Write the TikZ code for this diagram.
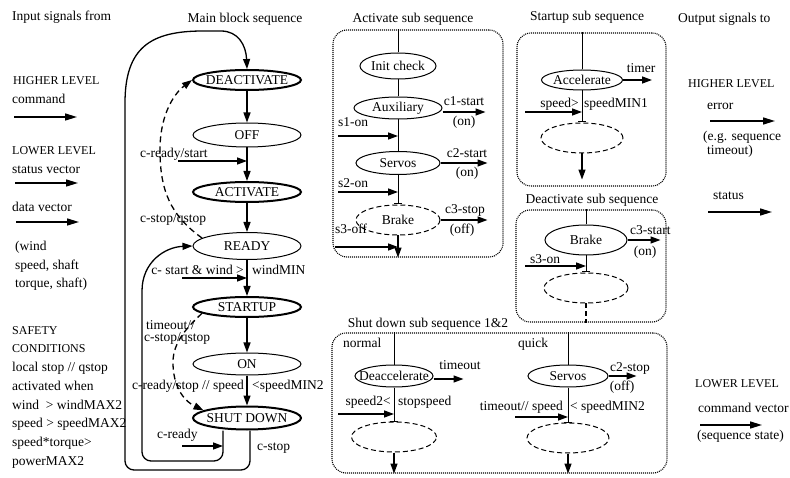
\documentclass[tikz,border=0pt]{standalone}
\usepackage{fontspec}
\setmainfont{Liberation Serif}
\usetikzlibrary{arrows.meta,shapes.geometric}

\tikzset{
  mstate/.style={ellipse, draw, line width=1pt, inner xsep=-14pt, inner ysep=0pt,
    minimum width=108pt, minimum height=24pt},
  keystate/.style={mstate, line width=2pt, minimum height=20pt},
  substate/.style={mstate, minimum height=22pt},
  ghost/.style={substate, dash pattern=on 5pt off 3pt, minimum height=30pt},
  subbox/.style={draw, line width=1.1pt, dash pattern=on 1pt off 1pt,
    rounded corners=14pt, inner sep=0pt},
  flow/.style={-{Triangle[length=10pt,width=7pt]}, line width=1.3pt},
  backflow/.style={flow, dash pattern=on 6pt off 4pt},
  sig/.style={-{Triangle[length=12pt,width=7pt]}, line width=1.5pt},
  tbar/.style={-{Bar[width=8pt]}, line width=1pt},
  lbl/.style={inner sep=0pt, text height=1.5ex, text depth=.25ex},
  caps/.style={lbl, font=\fontsize{12}{14}\selectfont},
  txtblock/.style={inner sep=0pt, align=left, anchor=north west},
}

\begin{document}
\begin{tikzpicture}[x=1pt, y=-1pt, font=\fontsize{13.5}{16}\selectfont]
  \useasboundingbox (0,0) rectangle (790,478);

  % input signals
  \node[lbl, anchor=west] (insig) at (12,18) {Input signals from};
  \node[caps, anchor=west] (hiin) at (13,82) {HIGHER LEVEL};
  \node[lbl, anchor=west] (cmdin) at (12,101) {command};
  \coordinate (cmdA) at (14,117);
  \draw[sig] (cmdA) -- ++(63,0);
  \node[caps, anchor=west] (loin) at (12,152) {LOWER LEVEL};
  \node[lbl, anchor=west] (statin) at (12,171) {status vector};
  \coordinate (statA) at (15,183);
  \draw[sig] (statA) -- ++(63,0);
  \node[lbl, anchor=west] (datain) at (12,209) {data vector};
  \coordinate (dataA) at (16,222);
  \draw[sig] (dataA) -- ++(63,0);
  \node[txtblock, font=\fontsize{13.5}{18.5}\selectfont] (windin) at (15,241)
    {(wind\\speed, shaft\\torque, shaft)};
  \node[txtblock, font=\fontsize{12}{18.5}\selectfont] (safety) at (12,326)
    {SAFETY\\CONDITIONS};
  \node[txtblock, font=\fontsize{13.5}{18.8}\selectfont] (limits) at (12,362)
    {local stop // qstop\\activated when\\wind\ \ > windMAX2\\speed > speedMAX2\\speed*torque>\\powerMAX2};

  % main block sequence
  \node[lbl] (mbtitle) at (245,20) {Main block sequence};
  \node[keystate] (deact) at (247,80) {DEACTIVATE};
  \node[mstate] (off) at (247,135) {OFF};
  \node[keystate] (act) at (247,192) {ACTIVATE};
  \node[mstate, minimum height=27pt] (ready) at (247,246) {READY};
  \node[keystate] (startup) at (247,307) {STARTUP};
  \node[mstate, minimum height=22pt] (on) at (247,364) {ON};
  \node[keystate, minimum height=23pt] (shutdn) at (247,418) {SHUT DOWN};
  \foreach \a/\b in {deact/off, off/act, act/ready, ready/startup, startup/on, on/shutdn}
    \draw[flow] (\a) -- (\b);

  \node[lbl, anchor=west] at (140,155) {c-ready/start};
  \coordinate (crs) at (178,161);
  \draw[flow] (crs) -- (crs -| off);
  \node[lbl, anchor=west] at (140,220) {c-stop/qstop};
  \node[lbl, anchor=east] at (244,272) {c- start \& wind >};
  \node[lbl, anchor=west] at (252,272) {windMIN};
  \coordinate (csw) at (182,278);
  \draw[flow] (csw) -- (csw -| ready);
  \node[lbl, anchor=west] at (146,327) {timeout//};
  \node[lbl, anchor=west] at (144,339) {c-stop/qstop};
  \node[lbl, anchor=east] at (244,387) {c-ready/stop // speed};
  \node[lbl, anchor=west] at (252,387) {<speedMIN2};
  \node[lbl, anchor=west] at (157,436) {c-ready};
  \coordinate (crd) at (182,446);
  \draw[flow] (crd) -- ([xshift=-24pt]shutdn.south |- crd);
  \node[lbl, anchor=west] at (257,448) {c-stop};

  % loops back
  \draw[backflow] (ready.170) .. controls (170,215) and (160,190) .. (160,150)
    .. controls (160,112) and (176,92) .. (deact.west);
  \draw[backflow] (startup.188) .. controls (184,330) and (172,345) .. (173,365)
    .. controls (174,390) and (186,402) .. (shutdn.170);
  \draw[flow, rounded corners=9pt] ([xshift=-24pt]shutdn.south) |- (142,461)
    -- (142,300) .. controls (142,262) and (165,247) .. (ready.west);
  \draw[flow, rounded corners=9pt] ([xshift=3pt]shutdn.south) |- (125,470)
    -- (125,112) .. controls (125,48) and (150,31) .. (212,31)
    .. controls (238,31) and (246,45) .. (deact.north);

  % activate sub sequence
  \node[lbl] at (413,20) {Activate sub sequence};
  \node[subbox, minimum width=170pt, minimum height=227pt] (actbox) at (418,143.5) {};
  \node[substate, minimum width=76pt, minimum height=26pt] (initchk) at (398,66) {Init check};
  \node[substate, minimum width=88pt] (aux) at (398,108) {Auxiliary};
  \node[substate, minimum width=84pt, minimum height=23pt] (servo) at (398,163) {Servos};
  \node[ghost, minimum width=84pt] (brk) at (398,220) {Brake};
  \draw[line width=1pt] (actbox.north -| initchk) -- (initchk);
  \draw[line width=1pt] (initchk) -- (aux);
  \draw[line width=1pt] (aux) -- (servo);
  \draw[tbar] (servo) -- (brk.north);
  \draw[flow] (brk) -- (actbox.south -| brk);
  \node[lbl, anchor=west] at (338,124) {s1-on};
  \coordinate (s1) at (338,136);
  \draw[flow] (s1) -- (s1 -| aux);
  \node[lbl, anchor=west] at (338,185) {s2-on};
  \coordinate (s2) at (338,192);
  \draw[flow] (s2) -- (s2 -| servo);
  \node[lbl, anchor=west] at (335,231) {s3-off};
  \coordinate (s3) at (335,247);
  \draw[flow] (s3) -- (s3 -| brk);
  \draw[flow] ([yshift=-4pt]aux.east) -- ++(43,0);
  \node[lbl] at (464,103) {c1-start};
  \node[lbl] at (464,123) {(on)};
  \draw[flow] (servo.east) -- ++(47,0);
  \node[lbl] at (467,155) {c2-start};
  \node[lbl] at (467,174) {(on)};
  \draw[flow] (brk.east) -- ++(47,0);
  \node[lbl] at (465,211) {c3-stop};
  \node[lbl] at (462,231) {(off)};

  % startup sub sequence
  \node[lbl] at (587,18) {Startup sub sequence};
  \node[subbox, minimum width=149pt, minimum height=153pt] (stbox) at (591.5,109.5) {};
  \node[substate, minimum width=81pt, minimum height=20pt] (accel) at (582,80) {Accelerate};
  \node[ghost, minimum width=82pt] (stnext) at (582,138) {};
  \draw[line width=1pt] (stbox.north -| accel) -- (accel);
  \draw[tbar] (accel) -- (stnext.north);
  \draw[flow] (stnext) -- ([yshift=7pt]stbox.south -| stnext);
  \draw[flow] (accel.east) -- ++(29,0);
  \node[lbl] at (641,70) {timer};
  \node[lbl, anchor=east] at (579,105) {speed>};
  \node[lbl, anchor=west] at (584,105) {speedMIN1};
  \coordinate (spd1) at (525,112);
  \draw[flow] (spd1) -- (spd1 -| accel);

  % deactivate sub sequence
  \node[lbl] at (592,201) {Deactivate sub sequence};
  \node[subbox, minimum width=150pt, minimum height=112pt] (dabox) at (591,266) {};
  \node[substate, minimum width=82pt, minimum height=30pt] (brk2) at (586,240) {Brake};
  \node[ghost, minimum width=84pt] (danext) at (586,288) {};
  \draw[line width=1pt] (dabox.north -| brk2) -- (brk2);
  \draw[tbar] (brk2) -- (danext.north);
  \draw[dash pattern=on 5pt off 3pt, line width=1.5pt] (danext) -- (dabox.south -| danext);
  \draw[flow] (brk2.east) -- ++(33,0);
  \node[lbl, anchor=west] at (630,232) {c3-start};
  \node[lbl] at (645,253) {(on)};
  \node[lbl, anchor=west] at (530,261) {s3-on};
  \coordinate (s3n) at (525,266);
  \draw[flow] (s3n) -- (s3n -| brk2);

  % shut down sub sequence
  \node[lbl] at (428,325) {Shut down sub sequence 1\&2};
  \node[subbox, minimum width=335pt, minimum height=140pt] (sdbox) at (499.5,403) {};
  \node[lbl, anchor=west] at (343,345) {normal};
  \node[lbl, anchor=west] at (518,345) {quick};
  \node[substate, minimum width=78pt] (decel) at (394,376) {Deaccelerate};
  \node[ghost, minimum width=85pt] (sdnext1) at (394,437) {};
  \draw[line width=1pt] (sdbox.north -| decel) -- (decel);
  \draw[tbar] (decel) -- (sdnext1.north);
  \draw[flow] (sdnext1) -- (sdbox.south -| sdnext1);
  \draw[flow] ([yshift=-3pt]decel.east) -- ++(30,0);
  \node[lbl] at (460,367) {timeout};
  \node[lbl, anchor=east] at (391,403) {speed2<};
  \node[lbl, anchor=west] at (398,403) {stopspeed};
  \coordinate (sp2) at (338,414);
  \draw[flow] (sp2) -- (sp2 -| decel);
  \node[substate, minimum width=80pt] (servo2) at (568,376) {Servos};
  \node[ghost, minimum width=82pt] (sdnext2) at (568,438) {};
  \draw[line width=1pt] (sdbox.north -| servo2) -- (servo2);
  \draw[tbar] (servo2) -- (sdnext2.north);
  \draw[flow] (sdnext2) -- (sdbox.south -| sdnext2);
  \draw[flow] (servo2.east) -- ++(28,0);
  \node[lbl, anchor=west] at (610,369) {c2-stop};
  \node[lbl] at (622,388) {(off)};
  \node[lbl, anchor=east] at (563,408) {timeout// speed};
  \node[lbl, anchor=west] at (570,408) {< speedMIN2};
  \coordinate (sp3) at (515,417);
  \draw[flow] (sp3) -- (sp3 -| servo2);

  % output signals
  \node[lbl, anchor=west] (outsig) at (678,20) {Output signals to};
  \node[caps, anchor=west] (hiout) at (688,85) {HIGHER LEVEL};
  \node[lbl, anchor=west] (errout) at (707,107) {error};
  \coordinate (errA) at (710,121);
  \draw[sig] (errA) -- ++(65,0);
  \node[lbl, anchor=west] at (703,138) {(e.g. sequence};
  \node[lbl, anchor=west] at (707,152) {timeout)};
  \node[lbl, anchor=west] (statout) at (713,197) {status};
  \coordinate (statB) at (708,212);
  \draw[sig] (statB) -- ++(64,0);
  \node[caps, anchor=west] (loout) at (695,385) {LOWER LEVEL};
  \node[lbl, anchor=west] (cmdout) at (698,410) {command vector};
  \coordinate (cmdB) at (700,425);
  \draw[sig] (cmdB) -- ++(62,0);
  \node[lbl, anchor=west] at (697,437) {(sequence state)};
\end{tikzpicture}
\end{document}
